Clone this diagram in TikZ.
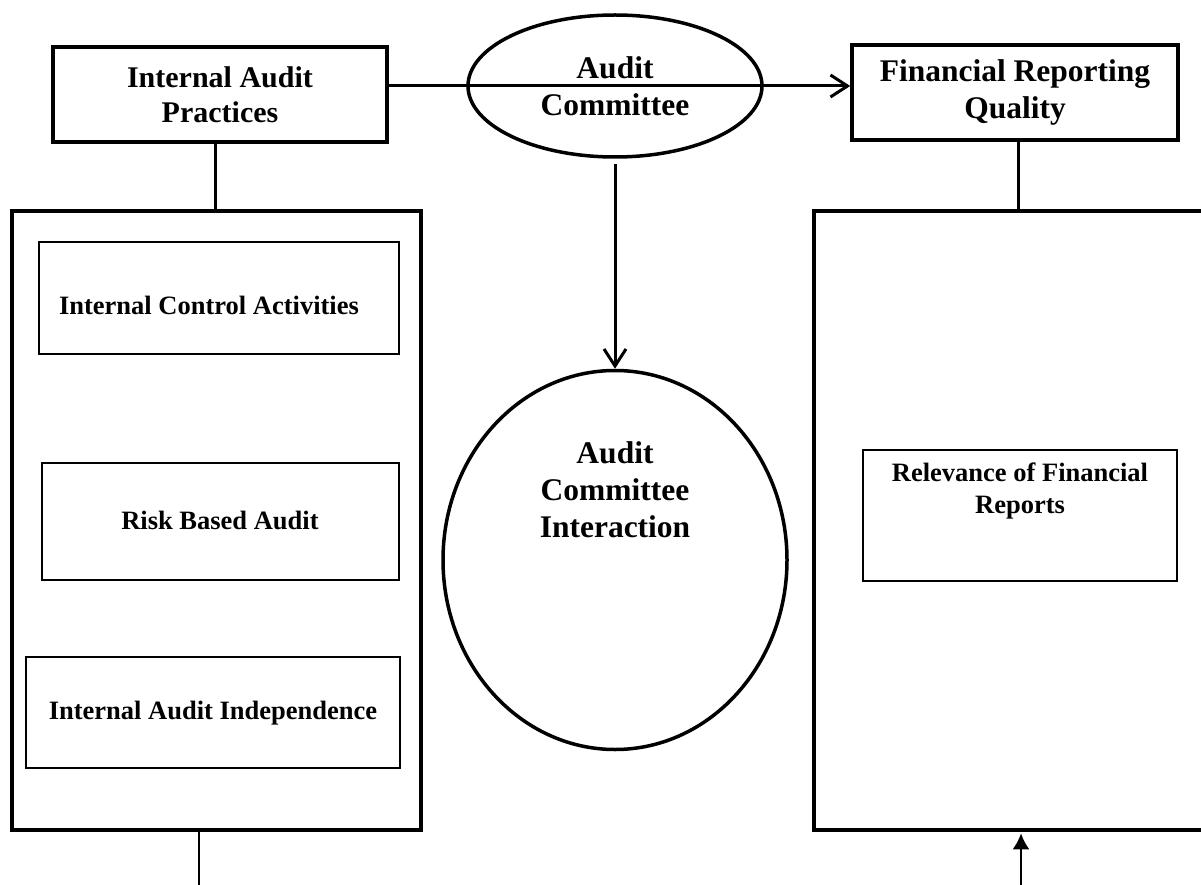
\documentclass[tikz,border=0pt]{standalone}
\usepackage{fontspec}
\setmainfont{Liberation Serif}
\usetikzlibrary{shapes.geometric,arrows.meta}
\begin{document}
\begin{tikzpicture}[x=1pt,y=-1pt,
  bigtxt/.style={font=\bfseries\fontsize{31.5}{37}\selectfont,align=center,inner sep=0pt},
  smalltxt/.style={font=\bfseries\fontsize{26.5}{32}\selectfont,align=center,inner sep=0pt},
  headbox/.style={draw,line width=3.5pt,rectangle,inner sep=0pt,align=center},
  frame/.style={draw,line width=3.5pt,rectangle,inner sep=0pt},
  itembox/.style={draw,line width=1.3pt,rectangle,inner sep=0pt},
  oval/.style={draw,line width=3.5pt,ellipse,inner sep=0pt},
  conn/.style={line width=3pt},
  openarrow/.style={-{Straight Barb[length=17pt,width=22pt,line width=3pt]}},
  thin/.style={line width=2.5pt}
]
\useasboundingbox (0,0) rectangle (1201,885);
\clip (0,0) rectangle (1201,885);

% top row
\node[headbox,minimum width=334pt,minimum height=95pt,font=\bfseries\fontsize{30}{35}\selectfont]
  (IAP) at (220,94.5) {Internal Audit\\Practices};
\node[oval,minimum width=294pt,minimum height=142pt,bigtxt] (AC) at (615,86) {Audit\\Committee};
\node[headbox,minimum width=326pt,minimum height=95pt,bigtxt] (FRQ) at (1015,92.5) {Financial Reporting\\Quality};

% frames
\node[frame,minimum width=409pt,minimum height=619pt] (LB) at (216.5,520.5) {};
\node[frame,minimum width=401pt,minimum height=619pt] (RB) at (1014.5,520.5) {};

% left items
\node[itembox,minimum width=360pt,minimum height=112pt] (I1) at (219,298) {};
\node[smalltxt] (T1) at (209,305) {Internal Control Activities};
\node[itembox,minimum width=357pt,minimum height=117pt] (I2) at (220.5,521.5) {};
\node[smalltxt] (T2) at (220,520) {Risk Based Audit};
\node[itembox,minimum width=374pt,minimum height=111pt] (I3) at (213,712.5) {};
\node[smalltxt] (T3) at (213,713) {Internal Audit Independence};

% right item
\node[itembox,minimum width=314pt,minimum height=131pt] (R1) at (1020,515.5) {};
\node[smalltxt] (TR) at (1020,491) {Relevance of Financial\\Reports};

% central ellipse
\node[oval,minimum width=344pt,minimum height=379pt] (ACI) at (615,560) {};
\node[bigtxt] (TACI) at (615,490) {Audit\\Committee\\Interaction};

% connectors
\draw[conn,openarrow] (IAP.east |- AC.center) -- (FRQ.west |- AC.center);
\draw[conn,openarrow] ([yshift=-5pt]AC.south) -- (ACI.north);
\draw[conn] (IAP.south -| 215,0) -- (LB.north -| 215,0);
\draw[conn] (FRQ.south -| 1018,0) -- (RB.north -| 1018,0);

\coordinate (lbot) at (199,885);
\coordinate (rbot) at (1021,885);
\draw[thin] (LB.south -| lbot) -- (lbot);
\draw[thin,-{Latex[length=16pt,width=17pt]}] (rbot) -- ([yshift=-1.5pt]RB.south -| rbot);
\end{tikzpicture}
\end{document}
